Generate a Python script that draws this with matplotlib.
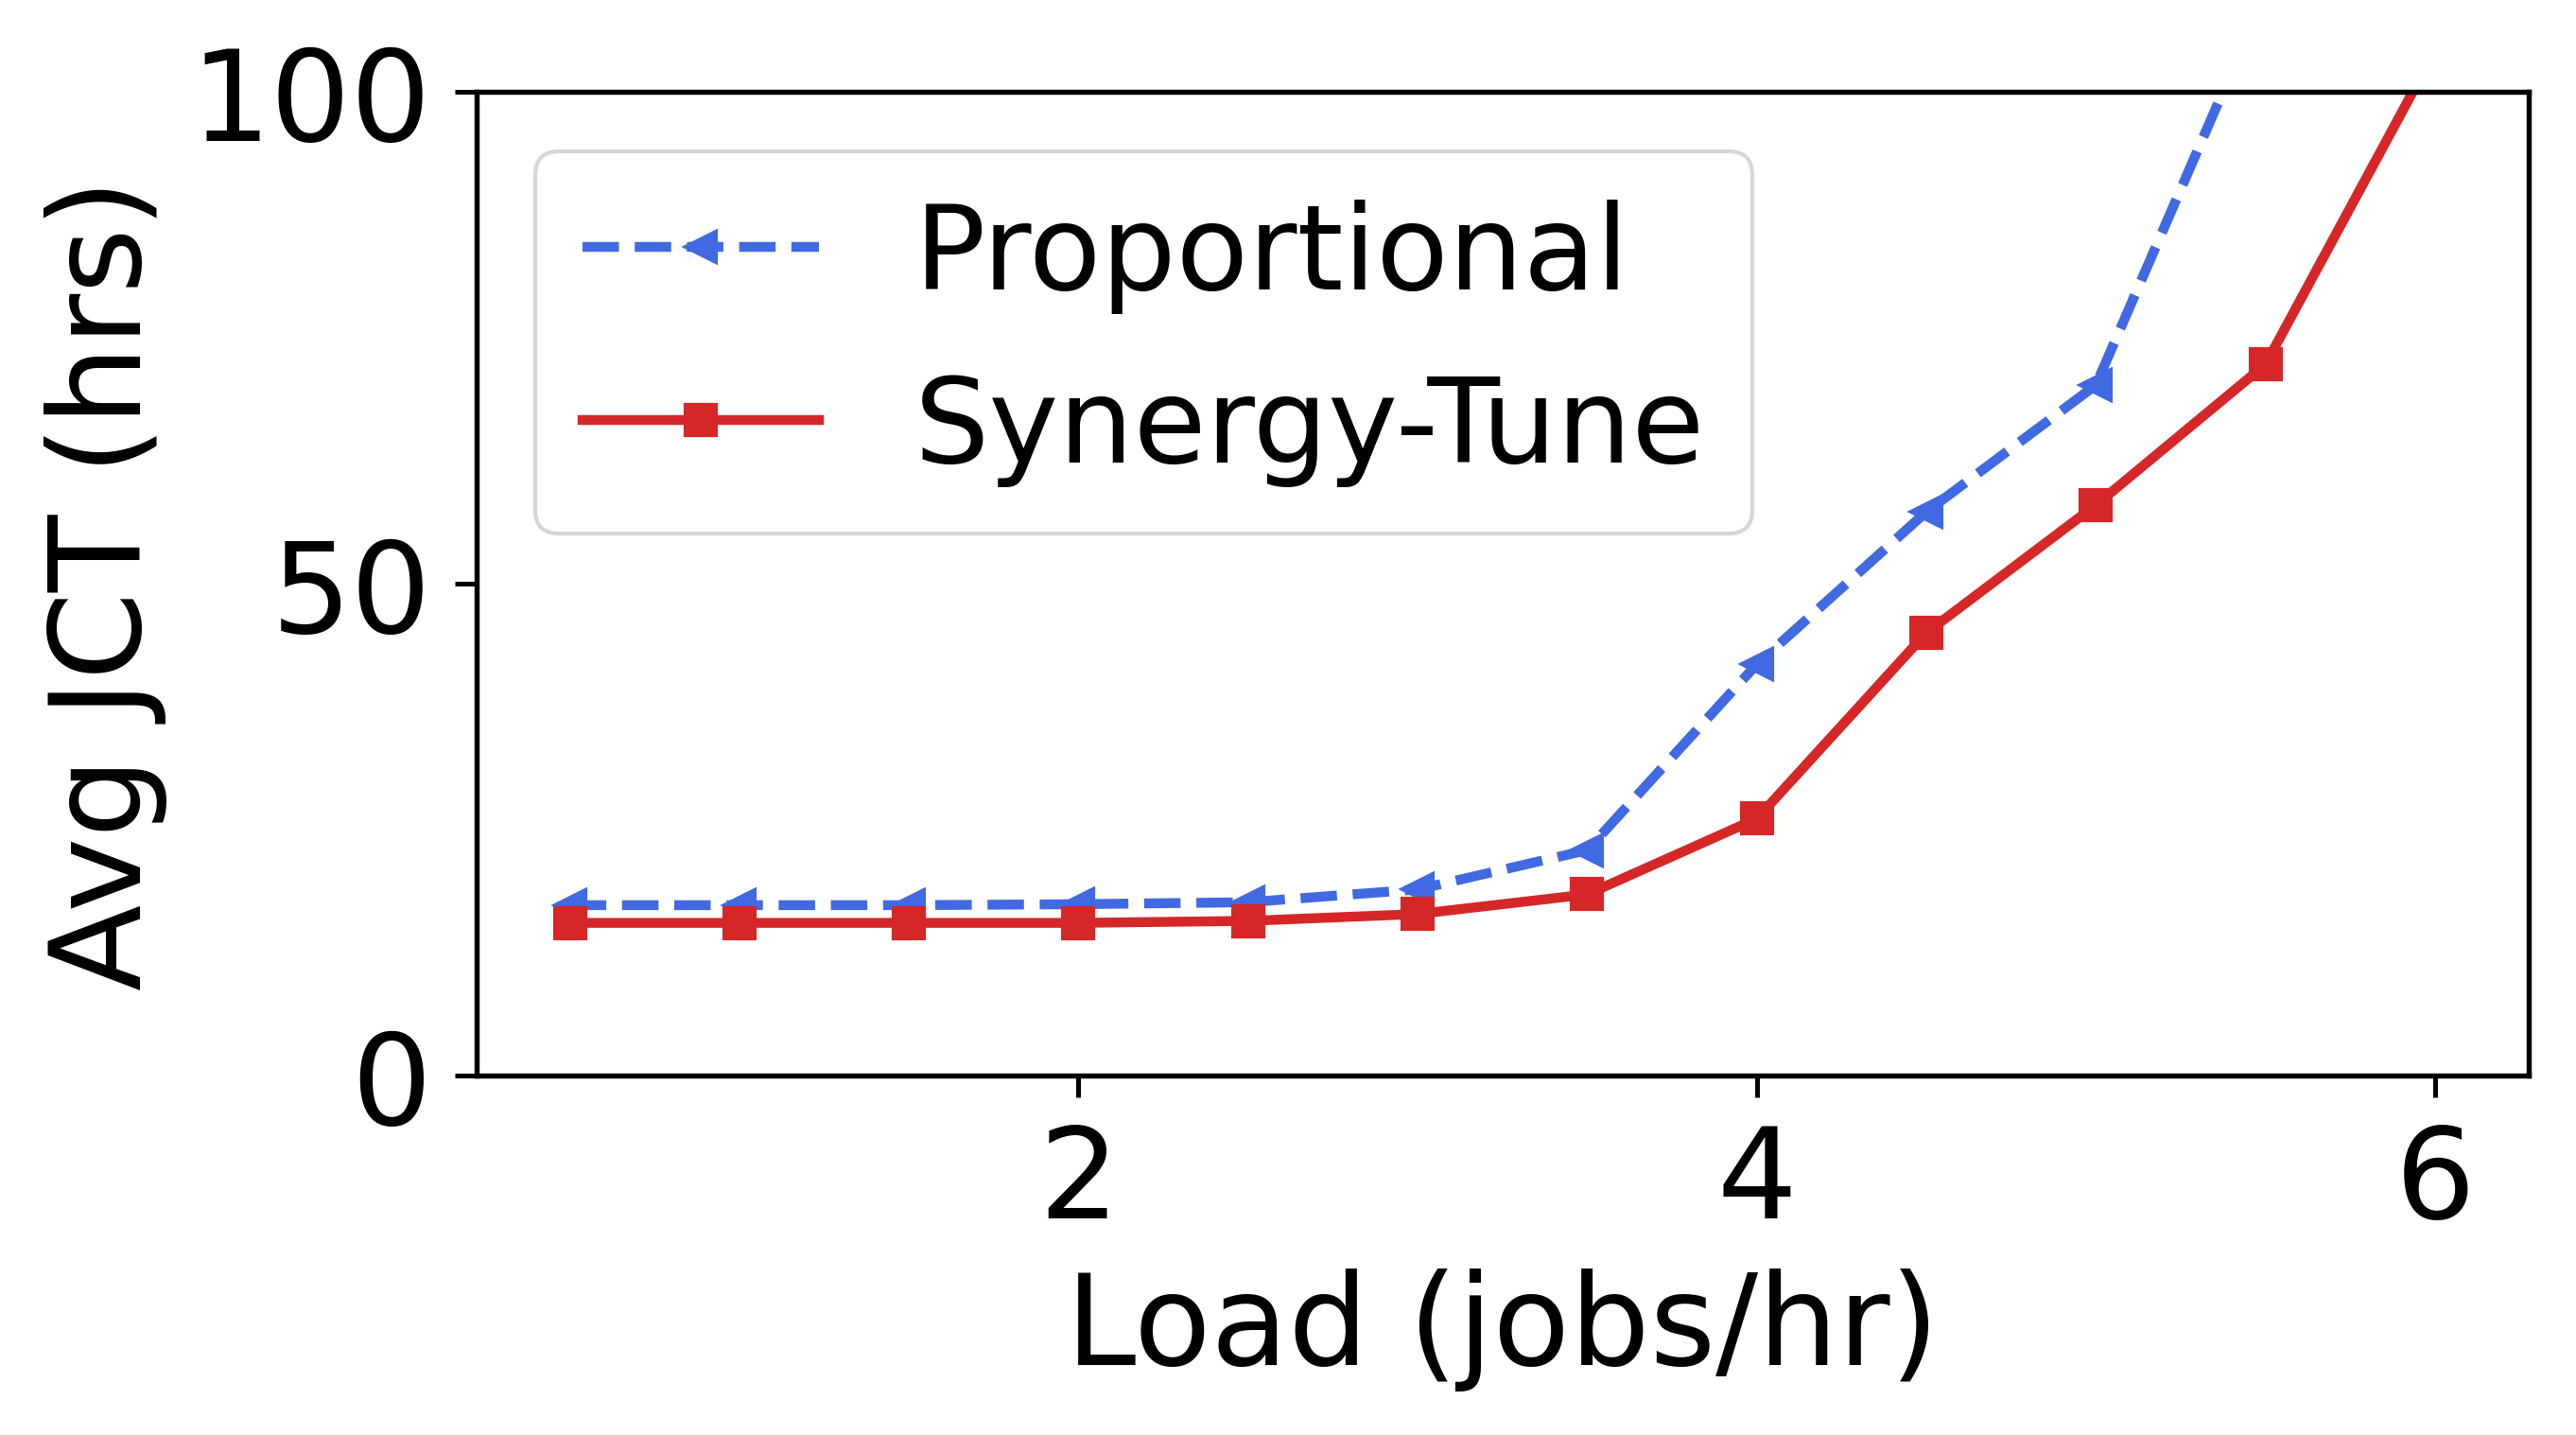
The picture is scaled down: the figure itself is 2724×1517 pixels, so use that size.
#!/usr/bin/env python3
"""
Avg JCT vs load: Proportional vs Synergy-Tune
"""
import matplotlib
matplotlib.use('Agg')
import matplotlib.pyplot as plt

# Data
load = [0.5, 1.0, 1.5, 2.0, 2.5, 3.0, 3.5, 4.0, 4.5, 5.0, 5.5, 6.0]
jct_proportional = [17.3, 17.3, 17.3, 17.4, 17.6, 18.9, 22.9, 41.8, 57.3, 70.2, 110.0, 150.0]
jct_synergy_tune = [15.5, 15.5, 15.5, 15.5, 15.7, 16.4, 18.4, 26.1, 45.0, 58.0, 72.3, 104.2]


def generate_jct_figure():
    plt.rcParams['font.size'] = 32
    plt.rcParams['axes.linewidth'] = 1.3
    for axis in ('xtick', 'ytick'):
        plt.rcParams[f'{axis}.major.size'] = 5.5
        plt.rcParams[f'{axis}.major.width'] = 1.2
        plt.rcParams[f'{axis}.major.pad'] = 6

    fig = plt.figure(figsize=(9.08, 5.06), dpi=300)
    ax = fig.add_axes([0.185, 0.2505, 0.7965, 0.6848])

    ax.plot(load, jct_proportional, '--', color='royalblue', linewidth=2.5,
            marker='<', markersize=7.5, label='Proportional')
    ax.plot(load, jct_synergy_tune, '-', color='#d62728', linewidth=2.5,
            marker='s', markersize=7.5, label='Synergy-Tune')

    ax.set_ylim(0, 100)
    ax.set_yticks([0, 50, 100])
    ax.set_xticks([2, 4, 6])
    ax.set_xlabel('Load (jobs/hr)', labelpad=6)
    ax.set_ylabel('Avg JCT (hrs)', labelpad=6)
    ax.legend(loc='upper left', fontsize=30)

    fig.savefig('out.png', dpi=300)
    plt.close(fig)


if __name__ == '__main__':
    generate_jct_figure()
